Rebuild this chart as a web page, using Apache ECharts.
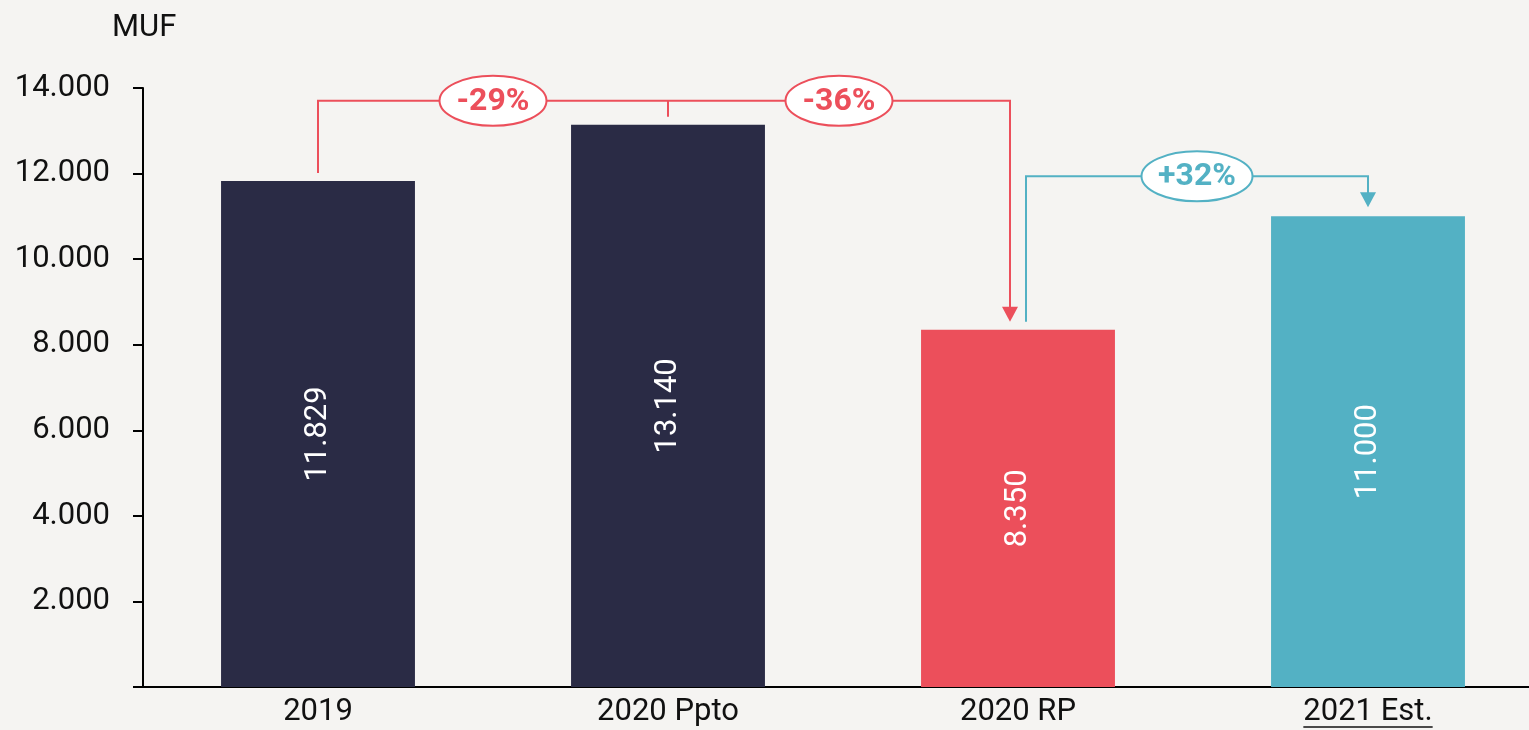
<!DOCTYPE html>
<html>
<head>
<meta charset="utf-8">
<script src="https://cdn.jsdelivr.net/npm/echarts@6/dist/echarts.min.js"></script>
<style>
  html, body { margin: 0; padding: 0; background: #f5f4f2; }
  #chart { width: 1529px; height: 730px; }
</style>
</head>
<body>
<div id="chart"></div>
<script>
// Revenue by scenario, in MUF
const categories = ['2019', '2020 Ppto', '2020 RP', '2021 Est.'];
const values = [11829, 13140, 8350, 11000];
const yMin = 0;
const yMax = 14000;
const yStep = 2000;
const unitLabel = 'MUF';

// Change brackets: drop to 2020 RP and recovery to 2021 Est.
const dropLabels = ['-29%', '-36%'];
const riseLabel = '+32%';

const barColors = ['#2a2b45', '#2a2b45', '#ec4f5b', '#53b1c4'];
const RED = '#ec4f5b';
const TEAL = '#53b1c4';
const FONT = 'Roboto, "Noto Sans", sans-serif';

const fmt = v => String(v).replace(/\B(?=(\d{3})+(?!\d))/g, '.');

const chart = echarts.init(document.getElementById('chart'));

chart.setOption({
  backgroundColor: '#f5f4f2',
  animation: false,
  title: {
    text: unitLabel,
    left: 107,
    top: 8,
    textStyle: { fontFamily: FONT, fontSize: 31, fontWeight: 'normal', color: '#111' }
  },
  // plot runs past the right edge so the last bar sits like the others
  grid: { left: 143, width: 1400, top: 88, bottom: 43, containLabel: false, outerBoundsMode: 'none' },
  xAxis: {
    type: 'category',
    data: categories,
    axisTick: { show: false },
    axisLine: { lineStyle: { color: '#000', width: 2 } },
    axisLabel: {
      margin: 10,
      fontFamily: FONT,
      fontSize: 31,
      color: '#111'
    }
  },
  yAxis: {
    type: 'value',
    min: yMin,
    max: yMax,
    interval: yStep,
    splitLine: { show: false },
    axisLine: { show: true, lineStyle: { color: '#000', width: 2 } },
    axisTick: { show: true, length: 10, lineStyle: { color: '#000', width: 2 } },
    axisLabel: {
      margin: 33,
      fontFamily: FONT,
      fontSize: 31,
      color: '#111',
      formatter: v => (v === 0 ? '' : fmt(v))
    }
  },
  series: [{
    type: 'bar',
    barWidth: '55.4%',
    data: values.map((v, i) => ({ value: v, itemStyle: { color: barColors[i] } })),
    label: {
      show: true,
      position: 'inside',
      rotate: 90,
      color: '#fff',
      fontFamily: FONT,
      fontWeight: 'normal',
      fontSize: 31,
      formatter: p => fmt(p.value)
    }
  }]
});

// Bracket overlays computed from the axis scales
const px = i => chart.convertToPixel({ xAxisIndex: 0 }, i);
const py = v => chart.convertToPixel({ yAxisIndex: 0 }, v);

const gap = 8;
const arrowH = 15;
const arrowHalf = 8;

function line(points, color) {
  return { type: 'polyline', shape: { points }, style: { stroke: color, lineWidth: 2, fill: null }, z: 10 };
}
function arrow(x, tipY, color) {
  return {
    type: 'polygon',
    shape: { points: [[x - arrowHalf, tipY - arrowH], [x + arrowHalf, tipY - arrowH], [x, tipY]] },
    style: { fill: color }, z: 10
  };
}
function badge(cx, cy, text, color, rx) {
  return [
    { type: 'ellipse', shape: { cx, cy, rx, ry: 25 }, style: { fill: '#fff', stroke: color, lineWidth: 2 }, z: 11 },
    { type: 'text', x: cx, y: cy + 1, style: { text, align: 'center', verticalAlign: 'middle', font: 'bold 32px ' + FONT, fill: color }, z: 12 }
  ];
}

const x0 = px(0), x1 = px(1), x2 = px(2) - gap, x3 = px(2) + gap, x4 = px(3);
const topY = py(Math.max(values[0], values[1])) - 24;
const redTip = py(values[2]) - gap;
const tealY = py(values[3]) - 40;
const tealTip = py(values[3]) - 9;

const elements = [
  line([[x0, py(values[0]) - gap], [x0, topY], [x2, topY], [x2, redTip - arrowH + 1]], RED),
  line([[x1, topY], [x1, py(values[1]) - gap]], RED),
  arrow(x2, redTip, RED),
  ...badge((x0 + x1) / 2, topY, dropLabels[0], RED, 53.5),
  ...badge((x1 + x2) / 2, topY, dropLabels[1], RED, 53.5),
  line([[x3, redTip], [x3, tealY], [x4, tealY], [x4, tealTip - arrowH + 1]], TEAL),
  arrow(x4, tealTip, TEAL),
  ...badge((x3 + x4) / 2, tealY, riseLabel, TEAL, 55.5)
];

// Underline for the estimate category label
const ctx = document.createElement('canvas').getContext('2d');
ctx.font = '31px ' + FONT;
const w = ctx.measureText(categories[3]).width;
const ulY = py(yMin) + 40;
elements.push({ type: 'line', shape: { x1: x4 - w / 2, y1: ulY, x2: x4 + w / 2, y2: ulY }, style: { stroke: '#111', lineWidth: 1.5 } });

chart.setOption({ graphic: { elements } });
</script>
</body>
</html>
